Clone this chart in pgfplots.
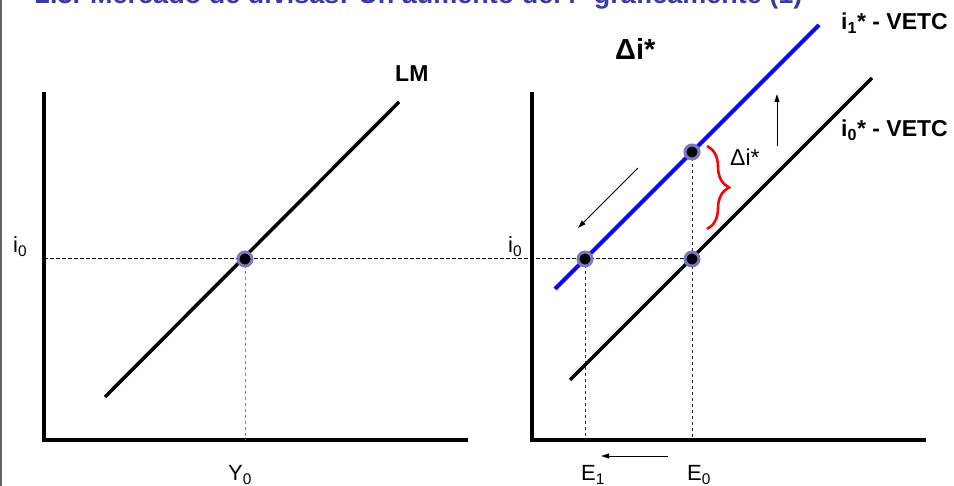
\documentclass[border=0pt]{standalone}
\usepackage{pgfplots}
\pgfplotsset{compat=1.18}
\usepackage{fontspec}
\setmainfont{Liberation Sans}
\usetikzlibrary{arrows.meta,decorations.pathreplacing}
\definecolor{titlecol}{HTML}{3A3AA0}
\definecolor{ptborder}{HTML}{7878C0}
\definecolor{vblue}{HTML}{0A0AF0}
\begin{document}
\begin{tikzpicture}
\useasboundingbox (0,0) rectangle (954pt,486pt);
\clip (0,0) rectangle (954pt,486pt);
\begin{axis}[at={(0,0)}, anchor=south west, width=954pt, height=486pt,
  scale only axis, xmin=0, xmax=954, ymin=0, ymax=486, y dir=reverse,
  hide axis, clip=false]
% slide frame line
\addplot[black!60, line width=1.5pt] coordinates {(1,0) (1,486)};
% axes
\addplot[black, line width=4.5pt, line join=miter] coordinates {(44,92) (44,440) (468,440)};
\addplot[black, line width=4.5pt, line join=miter] coordinates {(532,92) (532,440) (926,440)};
% guide lines
\addplot[black, line width=1pt, dash pattern=on 3.5pt off 2.5pt] coordinates {(44,259) (692,259)};
\addplot[gray, line width=1pt, dash pattern=on 3pt off 3pt] coordinates {(245,259) (245,440)};
\addplot[black!85, line width=1pt, dash pattern=on 3pt off 3pt] coordinates {(585,259) (585,440)};
\addplot[black!85, line width=1pt, dash pattern=on 3pt off 3pt] coordinates {(692,152) (692,440)};
% LM
\addplot[black, line width=3.5pt] coordinates {(105,397) (399,102)};
% i0* VETC
\addplot[black, line width=3.5pt] coordinates {(570,380) (872,78)};
% i1* VETC
\addplot[vblue, line width=4pt] coordinates {(555,289) (819,25)};
% points
\addplot[only marks, mark=*, mark size=7pt, mark options={fill=black, draw=ptborder, line width=3pt}]
  coordinates {(245,259) (585,259) (692,259) (692,152)};
% arrows
\addplot[black, line width=0.9pt, -{Triangle[length=8pt,width=5pt]}] coordinates {(777,146) (777,94)};
\addplot[black, line width=0.9pt, -{Triangle[length=8pt,width=5pt]}] coordinates {(638,168) (578,228)};
\addplot[black, line width=0.9pt, -{Triangle[length=8pt,width=5pt]}] coordinates {(668,456) (601,456)};
% brace
\draw[red, line width=2.6pt, decorate, decoration={brace, amplitude=22pt, aspect=0.5}]
  (axis cs:707,146) -- (axis cs:707,229);
% texts
\node[anchor=base west, text=titlecol, font=\fontsize{27}{30}\selectfont\bfseries, inner sep=0pt]
  at (axis cs:35,4) {2.3. Mercado de divisas: Un aumento del i* gráficamente (1)};
\node[anchor=base west, font=\fontsize{23}{26}\selectfont\bfseries, inner sep=0pt] at (axis cs:395,82) {LM};
\node[anchor=base west, font=\fontsize{23}{26}\selectfont\bfseries, inner sep=0pt] at (axis cs:841,30) {i\textsubscript{1}* - VETC};
\node[anchor=base west, font=\fontsize{23}{26}\selectfont\bfseries, inner sep=0pt] at (axis cs:841,137) {i\textsubscript{0}* - VETC};
\node[anchor=base west, font=\fontsize{29}{32}\selectfont\bfseries, inner sep=0pt] at (axis cs:615,60) {Δi*};
\node[anchor=base west, font=\fontsize{23}{26}\selectfont, inner sep=0pt] at (axis cs:730,166) {Δi*};
\node[anchor=base west, font=\fontsize{22}{25}\selectfont, inner sep=0pt] at (axis cs:13,253) {i\textsubscript{0}};
\node[anchor=base west, font=\fontsize{22}{25}\selectfont, inner sep=0pt] at (axis cs:508,253) {i\textsubscript{0}};
\node[anchor=base west, font=\fontsize{22}{25}\selectfont, inner sep=0pt] at (axis cs:228,481) {Y\textsubscript{0}};
\node[anchor=base west, font=\fontsize{22}{25}\selectfont, inner sep=0pt] at (axis cs:581,481) {E\textsubscript{1}};
\node[anchor=base west, font=\fontsize{22}{25}\selectfont, inner sep=0pt] at (axis cs:687,481) {E\textsubscript{0}};
\end{axis}
\end{tikzpicture}
\end{document}
